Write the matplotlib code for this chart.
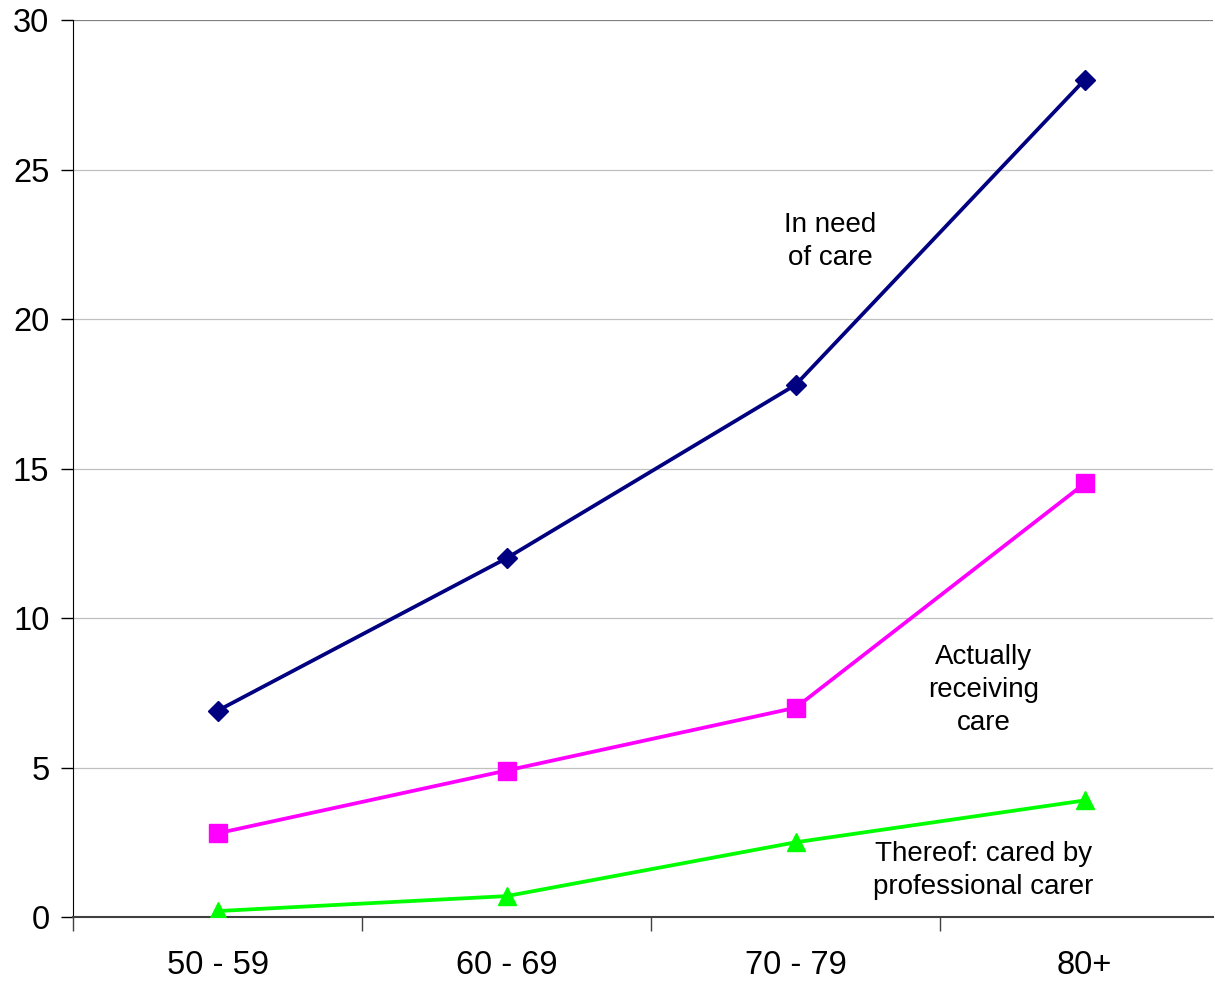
import matplotlib.pyplot as plt

plt.rcParams['font.family'] = ['Liberation Sans', 'DejaVu Sans']

age_groups = ["50 - 59", "60 - 69", "70 - 79", "80+"]
need_care = [6.9, 12.0, 17.8, 28.0]
receiving_care = [2.8, 4.9, 7.0, 14.5]
professional = [0.2, 0.7, 2.5, 3.9]

x = list(range(len(age_groups)))

fig = plt.figure(figsize=(12.15, 9.81), dpi=100)
ax = fig.add_axes([0.0601, 0.0652, 0.938, 0.9144])

ax.plot(x, need_care, color="#000080", lw=2.7, marker="D", ms=10, zorder=3)
ax.plot(x, receiving_care, color="#FF00FF", lw=2.7, marker="s", ms=12.5, zorder=3)
ax.plot(x, professional, color="#00FF00", lw=2.7, marker="^", ms=13, zorder=3)

ax.set_ylim(0, 30)
ax.set_xlim(-0.5, 3.443)
ax.set_yticks([0, 5, 10, 15, 20, 25, 30])
ax.yaxis.grid(True, color="#c0c0c0", lw=0.9)
ax.set_axisbelow(True)

# category boundaries as major ticks, labels on minor ticks
ax.set_xticks([-0.5, 0.5, 1.5, 2.5])
ax.set_xticklabels([])
ax.set_xticks(x, minor=True)
ax.set_xticklabels(age_groups, minor=True)
ax.tick_params(axis="x", which="major", length=10, width=1, color="#404040")
ax.tick_params(axis="x", which="minor", length=0, pad=24, labelsize=23.5)
ax.tick_params(axis="y", length=9, width=1, labelsize=23.5, pad=8)

for s in ["top", "right"]:
    ax.spines[s].set_visible(False)
ax.spines["left"].set_color("black")
ax.spines["bottom"].set_color("#404040")
ax.spines["bottom"].set_linewidth(1.5)
ax.axhline(30, color="#808080", lw=1.5, zorder=1)

ax.text(2.12, 22.6, "In need\nof care", ha="center", va="center",
        fontsize=20, linespacing=1.35)
ax.text(2.65, 7.6, "Actually\nreceiving\ncare", ha="center", va="center",
        fontsize=20, linespacing=1.35)
ax.text(2.65, 1.57, "Thereof: cared by\nprofessional carer", ha="center", va="center",
        fontsize=20, linespacing=1.35)

plt.savefig("out.png", dpi=100)
